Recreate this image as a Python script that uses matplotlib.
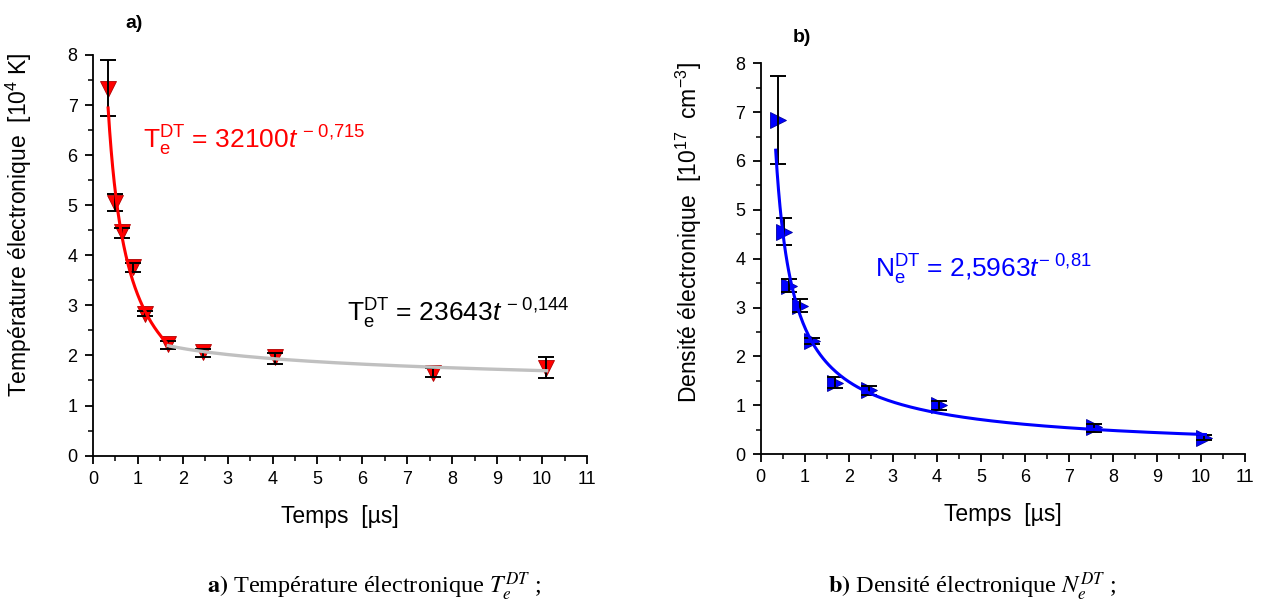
import numpy as np
import matplotlib.pyplot as plt
from matplotlib.ticker import MultipleLocator

plt.rcParams['font.family'] = ['Liberation Sans', 'DejaVu Sans']
plt.rcParams['mathtext.fontset'] = 'custom'
plt.rcParams['mathtext.rm'] = 'Liberation Sans'
plt.rcParams['mathtext.it'] = 'Liberation Sans:italic'
plt.rcParams['mathtext.bf'] = 'Liberation Sans:bold'

# a) temperature (10^4 K)
t_T = [0.34, 0.49, 0.64, 0.89, 1.15, 1.67, 2.46, 4.06, 7.57, 10.08]
T_val = [7.32, 5.05, 4.47, 3.77, 2.83, 2.23, 2.07, 1.96, 1.65, 1.75]
T_hi = [7.91, 5.23, 4.55, 3.84, 2.89, 2.29, 2.13, 2.04, 1.75, 1.96]
T_lo = [6.78, 4.89, 4.34, 3.67, 2.79, 2.13, 1.97, 1.83, 1.57, 1.55]

# b) density (10^17 cm^-3)
t_N = [0.40, 0.53, 0.65, 0.89, 1.17, 1.69, 2.47, 4.06, 7.57, 10.07]
N_val = [6.84, 4.54, 3.45, 3.04, 2.32, 1.45, 1.31, 1.00, 0.56, 0.33]
N_hi = [7.75, 4.83, 3.59, 3.18, 2.38, 1.57, 1.40, 1.09, 0.61, 0.39]
N_lo = [5.94, 4.28, 3.31, 2.91, 2.25, 1.35, 1.21, 0.90, 0.46, 0.29]

# fit coefficients printed on the chart
fit_T1 = (32100, -0.715)   # t 0.34 -> 1.7
fit_T2 = (23643, -0.144)   # t 1.7 -> 10.1
fit_N = (2.5963, -0.81)    # t 0.34 -> 10.1


def style_axis(ax):
    ax.spines['top'].set_visible(False)
    ax.spines['right'].set_visible(False)
    for s in ['left', 'bottom']:
        ax.spines[s].set_linewidth(1.3)
    ax.set_xlim(0, 11)
    ax.set_ylim(0, 8)
    ax.xaxis.set_major_locator(MultipleLocator(1))
    ax.yaxis.set_major_locator(MultipleLocator(1))
    ax.xaxis.set_minor_locator(MultipleLocator(0.5))
    ax.yaxis.set_minor_locator(MultipleLocator(0.5))
    ax.tick_params(which='major', direction='out', length=6, width=1.3,
                   labelsize=13, pad=5)
    ax.tick_params(which='minor', direction='out', length=3.5, width=1.1)
    ax.set_xlabel('Temps  [µs]', fontsize=16.5, labelpad=12)


fig = plt.figure(figsize=(12.77, 6.07), dpi=100)
ax1 = fig.add_axes([0.0727, 0.2494, 0.387, 0.66])
ax2 = fig.add_axes([0.5957, 0.252, 0.3793, 0.6437])

# panel a
T_val = np.array(T_val)
ax1.plot(t_T, T_val, 'v', color='red', mec='#b00000', mew=0.6, ms=12, zorder=2)
ax1.errorbar(t_T, T_val, yerr=[T_val - np.array(T_lo), np.array(T_hi) - T_val],
             fmt='none', ecolor='black', elinewidth=1.4, capsize=6, capthick=1.4,
             zorder=3)
tt = np.linspace(0.34, 1.7, 200)
ax1.plot(tt, fit_T1[0] * tt ** fit_T1[1] / 1e4, color='red', lw=2.2, zorder=4)
tt = np.linspace(1.68, 10.1, 200)
ax1.plot(tt, fit_T2[0] * tt ** fit_T2[1] / 1e4, color='#c0c0c0', lw=2.4, zorder=4)
style_axis(ax1)
ax1.set_ylabel('Température électronique  [10$^4$ K]', fontsize=16.5)
ax1.yaxis.set_label_coords(-0.12, 0.576)
ax1.text(1.12, 6.14, r'$\mathrm{T}_\mathrm{e}^\mathrm{DT}$ = 32100$t^{\ \mathrm{-\ 0{,}715}}$',
         color='red', fontsize=19, va='baseline')
ax1.text(5.65, 2.67, r'$\mathrm{T}_\mathrm{e}^\mathrm{DT}$ = 23643$t^{\ \mathrm{-\ 0{,}144}}$',
         color='black', fontsize=19, va='baseline')

# panel b
N_val = np.array(N_val)
ax2.plot(t_N, N_val, '>', color='blue', mec='#0000a0', mew=0.6, ms=12, zorder=2)
ax2.errorbar(t_N, N_val, yerr=[N_val - np.array(N_lo), np.array(N_hi) - N_val],
             fmt='none', ecolor='black', elinewidth=1.4, capsize=6, capthick=1.4,
             zorder=3)
tt = np.linspace(0.34, 10.1, 300)
ax2.plot(tt, fit_N[0] * tt ** fit_N[1], color='blue', lw=2.2, zorder=4)
style_axis(ax2)
ax2.set_ylabel('Densité électronique  [10$^{17}$  cm$^{-3}$]', fontsize=16.5)
ax2.yaxis.set_label_coords(-0.118, 0.568)
ax2.text(2.60, 3.61, r'$\mathrm{N}_\mathrm{e}^\mathrm{DT}$ = 2,5963$t^{\mathrm{-\ 0{,}81}}$',
         color='blue', fontsize=19, va='baseline')

fig.text(125 / 1277, 1 - 23 / 607, 'a)', fontsize=14, fontweight='bold', va='center')
fig.text(793 / 1277, 1 - 38 / 607, 'b)', fontsize=14, fontweight='bold', va='center')

fig.text(374 / 1277, 1 - 587 / 607,
         r'$\mathbf{a)}$ Température électronique $T_e^{DT}$ ;',
         family='Liberation Serif', math_fontfamily='stix', fontsize=17.5,
         ha='center', va='center')
fig.text(972 / 1277, 1 - 587 / 607,
         r'$\mathbf{b)}$ Densité électronique $N_e^{DT}$ ;',
         family='Liberation Serif', math_fontfamily='stix', fontsize=17.5,
         ha='center', va='center')

fig.savefig('out.png', dpi=100)
